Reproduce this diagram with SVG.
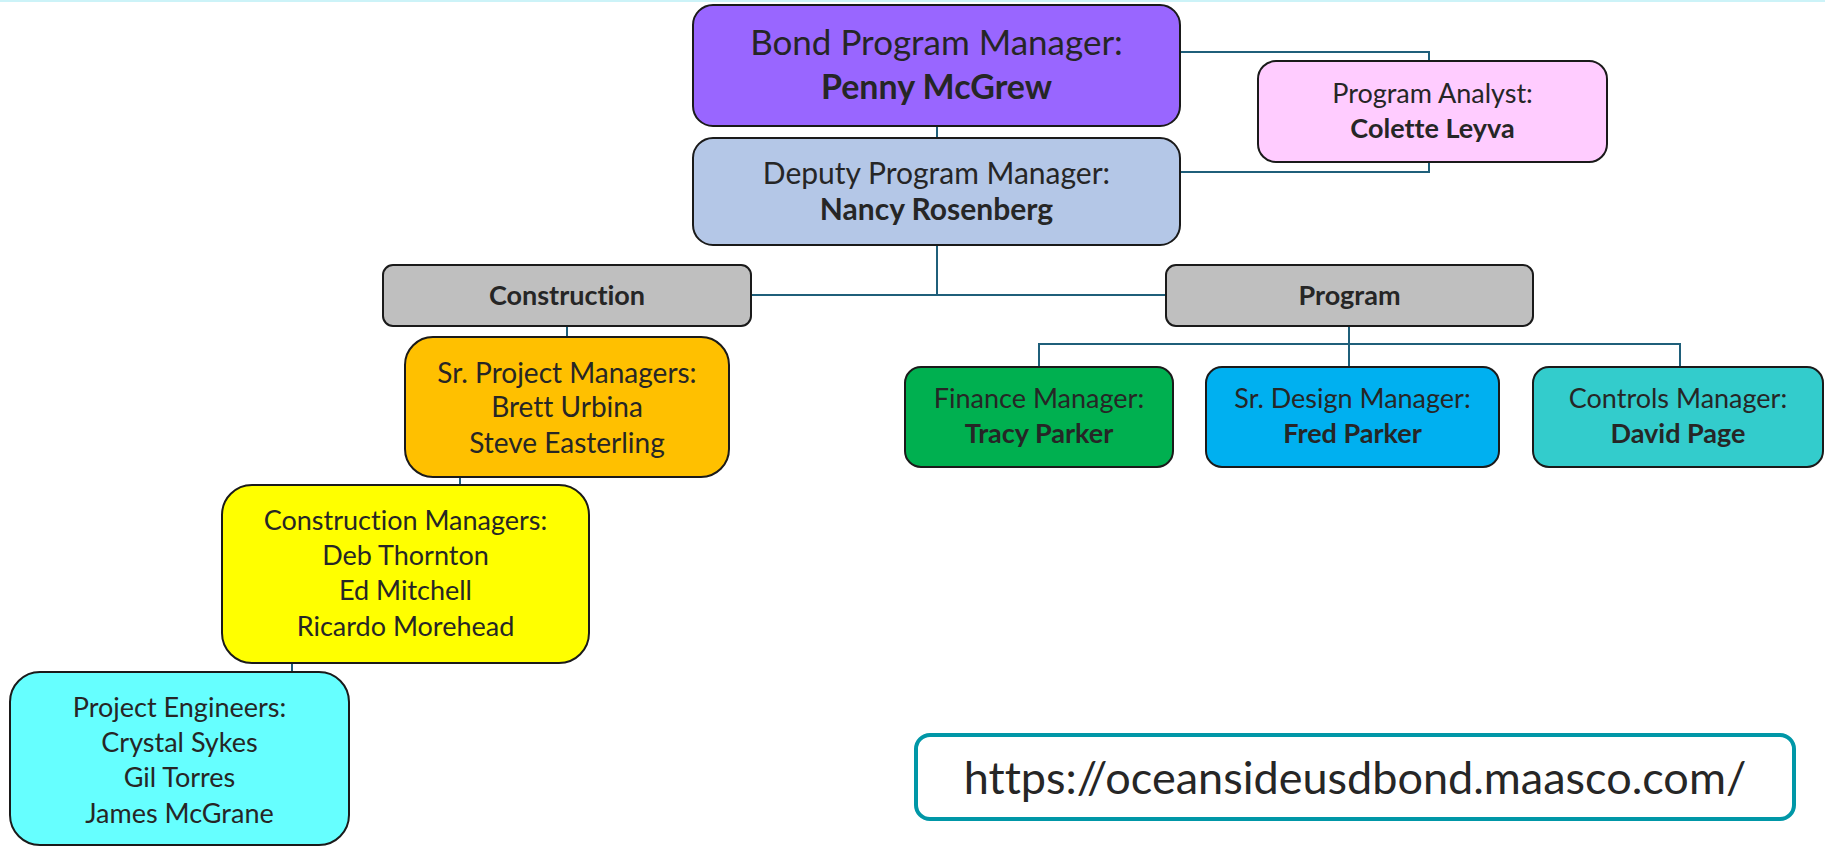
<svg xmlns="http://www.w3.org/2000/svg" width="1825" height="847" viewBox="0 0 1825 847">
<style>
.box{stroke:#1a1a1a;stroke-width:2}
.t{font-family:Lato,"Open Sans","Liberation Sans",sans-serif;fill:#262626;text-anchor:middle;font-variant-ligatures:none}
.b{font-weight:bold}
.conn{fill:none;stroke:#1F5F7A;stroke-width:2}
</style>
<rect x="0" y="0" width="1825" height="847" fill="#ffffff"/>
<rect x="0" y="0" width="1825" height="2" fill="#CCF3F8"/>
<g id="connectors">
<path class="conn" d="M937 126V138"/>
<path class="conn" d="M937 245V295"/>
<path class="conn" d="M751 295H1166"/>
<path class="conn" d="M1180 52H1429V61"/>
<path class="conn" d="M1180 172H1429V162"/>
<path class="conn" d="M567 326V337"/>
<path class="conn" d="M460 477V485"/>
<path class="conn" d="M292 663V672"/>
<path class="conn" d="M1349 326V367"/>
<path class="conn" d="M1039 367V344H1680V367"/>
</g>
<g id="bond-program-manager">
<rect class="box" x="693" y="5" width="487" height="121" rx="20" fill="#9966FF"/>
<text class="t" x="936.5" y="55" font-size="35">Bond Program Manager:</text>
<text class="t b" x="936.5" y="99" font-size="34">Penny McGrew</text>
</g>
<g id="deputy-program-manager">
<rect class="box" x="693" y="138" width="487" height="107" rx="20" fill="#B4C7E7"/>
<text class="t" x="936.5" y="184" font-size="30">Deputy Program Manager:</text>
<text class="t b" x="936.5" y="220" font-size="30">Nancy Rosenberg</text>
</g>
<g id="program-analyst">
<rect class="box" x="1258" y="61" width="349" height="101" rx="18" fill="#FFCCFF"/>
<text class="t" x="1432.5" y="103" font-size="27">Program Analyst:</text>
<text class="t b" x="1432.5" y="138" font-size="27">Colette Leyva</text>
</g>
<g id="construction">
<rect class="box" x="383" y="265" width="368" height="61" rx="10" fill="#BFBFBF"/>
<text class="t b" x="567" y="305" font-size="27">Construction</text>
</g>
<g id="program">
<rect class="box" x="1166" y="265" width="367" height="61" rx="10" fill="#BFBFBF"/>
<text class="t b" x="1349.5" y="305" font-size="27">Program</text>
</g>
<g id="sr-project-managers">
<rect class="box" x="405" y="337" width="324" height="140" rx="28" fill="#FFC000"/>
<text class="t" x="567" y="383" font-size="28">Sr. Project Managers:</text>
<text class="t" x="567" y="417" font-size="28">Brett Urbina</text>
<text class="t" x="567" y="453" font-size="28">Steve Easterling</text>
</g>
<g id="construction-managers">
<rect class="box" x="222" y="485" width="367" height="178" rx="30" fill="#FFFF00"/>
<text class="t" x="405.5" y="530" font-size="27">Construction Managers:</text>
<text class="t" x="405.5" y="565" font-size="27">Deb Thornton</text>
<text class="t" x="405.5" y="600" font-size="27">Ed Mitchell</text>
<text class="t" x="405.5" y="636" font-size="27">Ricardo Morehead</text>
</g>
<g id="project-engineers">
<rect class="box" x="10" y="672" width="339" height="173" rx="30" fill="#66FFFF"/>
<text class="t" x="179.5" y="717" font-size="27">Project Engineers:</text>
<text class="t" x="179.5" y="752" font-size="27">Crystal Sykes</text>
<text class="t" x="179.5" y="787" font-size="27">Gil Torres</text>
<text class="t" x="179.5" y="823" font-size="27">James McGrane</text>
</g>
<g id="finance-manager">
<rect class="box" x="905" y="367" width="268" height="100" rx="16" fill="#00B050"/>
<text class="t" x="1039" y="408" font-size="27">Finance Manager:</text>
<text class="t b" x="1039" y="443" font-size="27">Tracy Parker</text>
</g>
<g id="sr-design-manager">
<rect class="box" x="1206" y="367" width="293" height="100" rx="16" fill="#00B0F0"/>
<text class="t" x="1352.5" y="408" font-size="27">Sr. Design Manager:</text>
<text class="t b" x="1352.5" y="443" font-size="27">Fred Parker</text>
</g>
<g id="controls-manager">
<rect class="box" x="1533" y="367" width="290" height="100" rx="16" fill="#33CCCC"/>
<text class="t" x="1678" y="408" font-size="27">Controls Manager:</text>
<text class="t b" x="1678" y="443" font-size="27">David Page</text>
</g>
<g id="url">
<rect x="916" y="735" width="878" height="84" rx="14" fill="#ffffff" stroke="#0097A7" stroke-width="4"/>
<text class="t" x="1355" y="794" font-size="45">https://oceansideusdbond.maasco.com/</text>
</g>
</svg>
